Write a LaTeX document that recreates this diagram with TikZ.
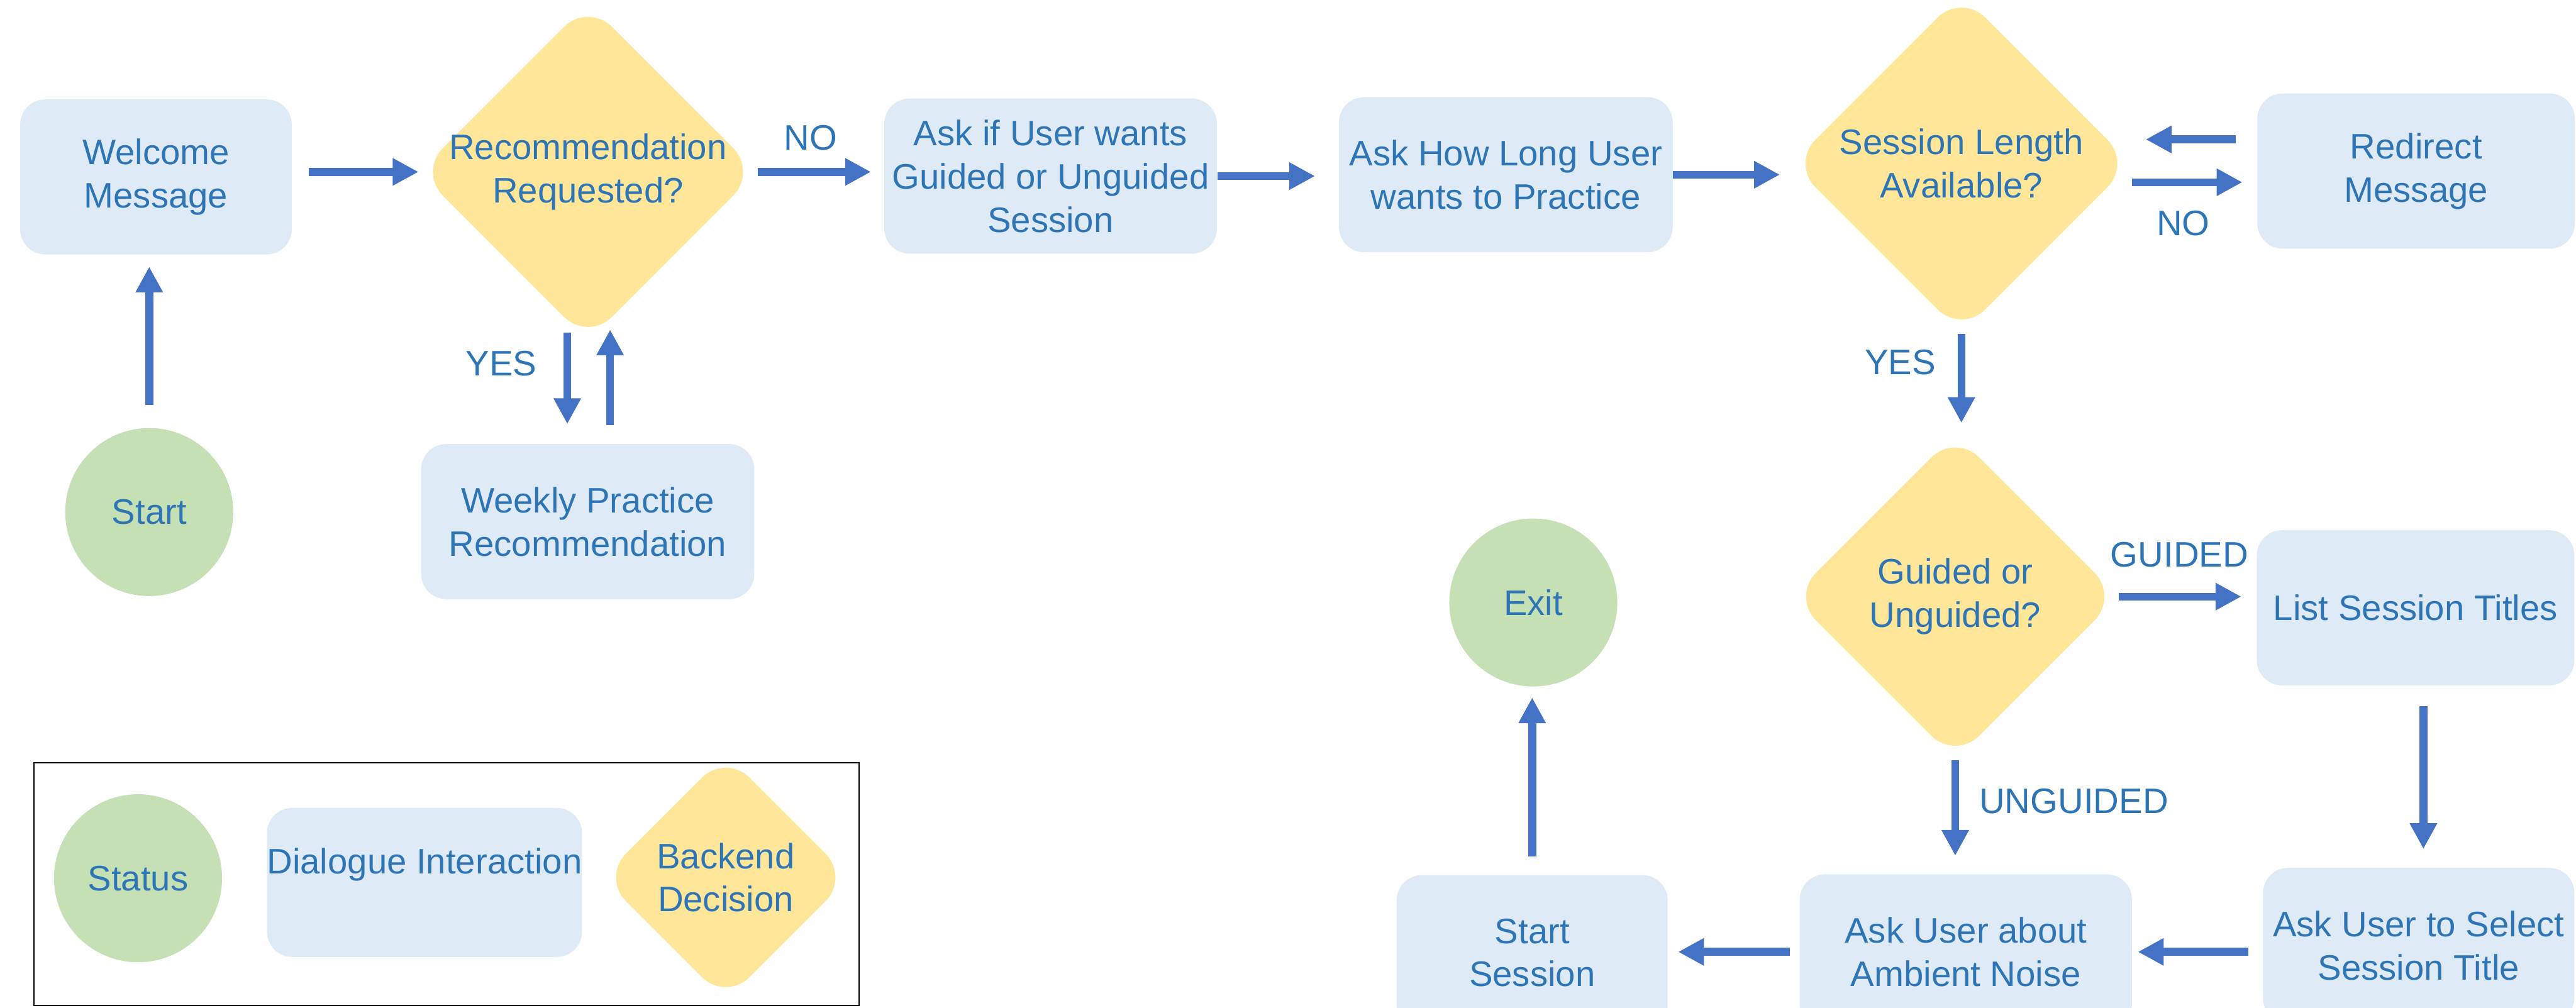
\documentclass[tikz,border=0pt]{standalone}
\usepackage{fontspec}
\setmainfont{Liberation Sans}
\definecolor{dlgblue}{RGB}{222, 235, 247}
\definecolor{txtblue}{RGB}{46, 117, 182}
\definecolor{flowblue}{RGB}{68, 114, 196}
\definecolor{statgreen}{RGB}{197, 224, 180}
\definecolor{decyellow}{RGB}{255, 230, 153}
\usetikzlibrary{shapes.geometric, arrows.meta, positioning}

\begin{document}
\begin{tikzpicture}[
  font=\fontsize{18}{22}\selectfont, text=txtblue,
  dialog/.style={fill=dlgblue, rounded corners=4.5mm, align=center, inner sep=1mm, minimum height=2.77cm},
  decision/.style={diamond, fill=decyellow, rounded corners=6mm, align=center, inner sep=-3mm, minimum size=#1},
  status/.style={circle, fill=statgreen, minimum size=3cm, inner sep=0pt},
  flow/.style={draw=flowblue, line width=4pt, -{Triangle[length=4.6mm, width=4.6mm]}},
  lbl/.style={text=txtblue, inner sep=0pt}
]
  \useasboundingbox (0, 0) rectangle (46, 18);

  \node[dialog, minimum width=4.85cm] (welcome) at (2.785, 14.84) {Welcome\\Message};
  \node[decision=6.04cm] (recoq) at (10.50, 14.93) {Recommendation\\Requested?};
  \node[dialog, minimum width=5.94cm] (askmode) at (18.76, 14.855) {Ask if User wants\\Guided or Unguided\\Session};
  \node[dialog, minimum width=5.96cm] (asklength) at (26.89, 14.88) {Ask How Long User\\wants to Practice};
  \node[decision=6.07cm] (lengthq) at (35.025, 15.08) {Session Length\\Available?};
  \node[dialog, minimum width=5.67cm] (redirect) at (43.145, 14.945) {Redirect\\Message};
  \node[status] (start) at (2.665, 8.855) {Start};
  \node[dialog, minimum width=5.95cm] (weekly) at (10.495, 8.685) {Weekly Practice\\Recommendation};
  \node[decision=5.83cm] (modeq) at (34.915, 7.345) {Guided or\\Unguided?};
  \node[dialog, minimum width=5.67cm] (titles) at (43.135, 7.145) {List Session Titles};
  \node[status] (exit) at (27.38, 7.24) {Exit};
  \node[dialog, minimum width=4.84cm] (startsession) at (27.36, 0.985) {Start\\Session};
  \node[dialog, minimum width=5.93cm] (noise) at (35.105, 1.0) {Ask User about\\Ambient Noise};
  \node[dialog, minimum width=5.56cm] (selecttitle) at (43.19, 1.115) {Ask User to Select\\Session Title};

  \draw[flow, shorten <=4.1mm, shorten >=2.1mm] (start.north) -- (start.north |- welcome.south);
  \draw[flow, shorten <=3mm] (welcome.east |- recoq.west) -- (recoq.west);
  \draw[flow, shorten >=2.3mm] (recoq.east) -- (recoq.east -| askmode.west) node[lbl, pos=.42, yshift=6.1mm] {NO};
  \draw[flow, shorten >=4.2mm] (askmode.east) -- (askmode.east -| asklength.west);
  \draw[flow, shorten >=2mm] (asklength.east) -- (asklength.east -| lengthq.west);
  \draw[flow, shorten <=3.8mm, shorten >=2.5mm] ([yshift=5.65mm]redirect.west) -- ([yshift=5.65mm]redirect.west -| lengthq.east);
  \draw[flow, shorten >=2.6mm] ([yshift=-2mm]redirect.west -| lengthq.east) -- ([yshift=-2mm]redirect.west) node[lbl, pos=.41, yshift=-7.3mm] {NO};
  \draw[flow, shorten >=1.8mm] (lengthq.south) -- (lengthq.south |- modeq.north) node[lbl, pos=.29, xshift=-10.9mm] {YES};
  \draw[flow, shorten >=3.5mm] ([xshift=-3.7mm, yshift=1.6mm]recoq.south) -- ([xshift=-3.7mm]recoq.south |- weekly.north) node[lbl, pos=.28, xshift=-11.8mm] {YES};
  \draw[flow, shorten <=3.3mm] ([xshift=4mm]weekly.north) -- ([xshift=4mm, yshift=2.1mm]weekly.north |- recoq.south);
  \draw[flow, shorten >=2.7mm] (modeq.east) -- (modeq.east -| titles.west) node[lbl, pos=.44, yshift=7.45mm] {GUIDED};
  \draw[flow, shorten <=3.7mm, shorten >=3.3mm] ([xshift=1.4mm]titles.south) -- ([xshift=1.4mm]titles.south |- selecttitle.north);
  \draw[flow, shorten >=3.25mm] (modeq.south) -- (modeq.south |- noise.north) node[lbl, pos=.36, anchor=west, xshift=3.6mm] {UNGUIDED};
  \draw[flow, shorten <=2.5mm, shorten >=1mm] (selecttitle.west |- noise.east) -- (noise.east);
  \draw[flow, shorten <=1.7mm, shorten >=1.8mm] (noise.west) -- (noise.west -| startsession.east);
  \draw[flow, shorten <=3.3mm, shorten >=1.9mm] (startsession.north) -- (startsession.north |- exit.south);

  \draw[black, line width=0.6pt] (0.61, 0.04) rectangle (15.34, 4.38);
  \node[status] (keystatus) at (2.465, 2.315) {Status};
  \node[dialog, minimum width=5.62cm, minimum height=2.66cm, inner sep=0pt] (keydialog) at (7.58, 2.24) {Dialogue Interaction\\\mbox{}};
  \node[decision=4.42cm] (keydecision) at (12.96, 2.33) {Backend\\Decision};
\end{tikzpicture}
\end{document}
